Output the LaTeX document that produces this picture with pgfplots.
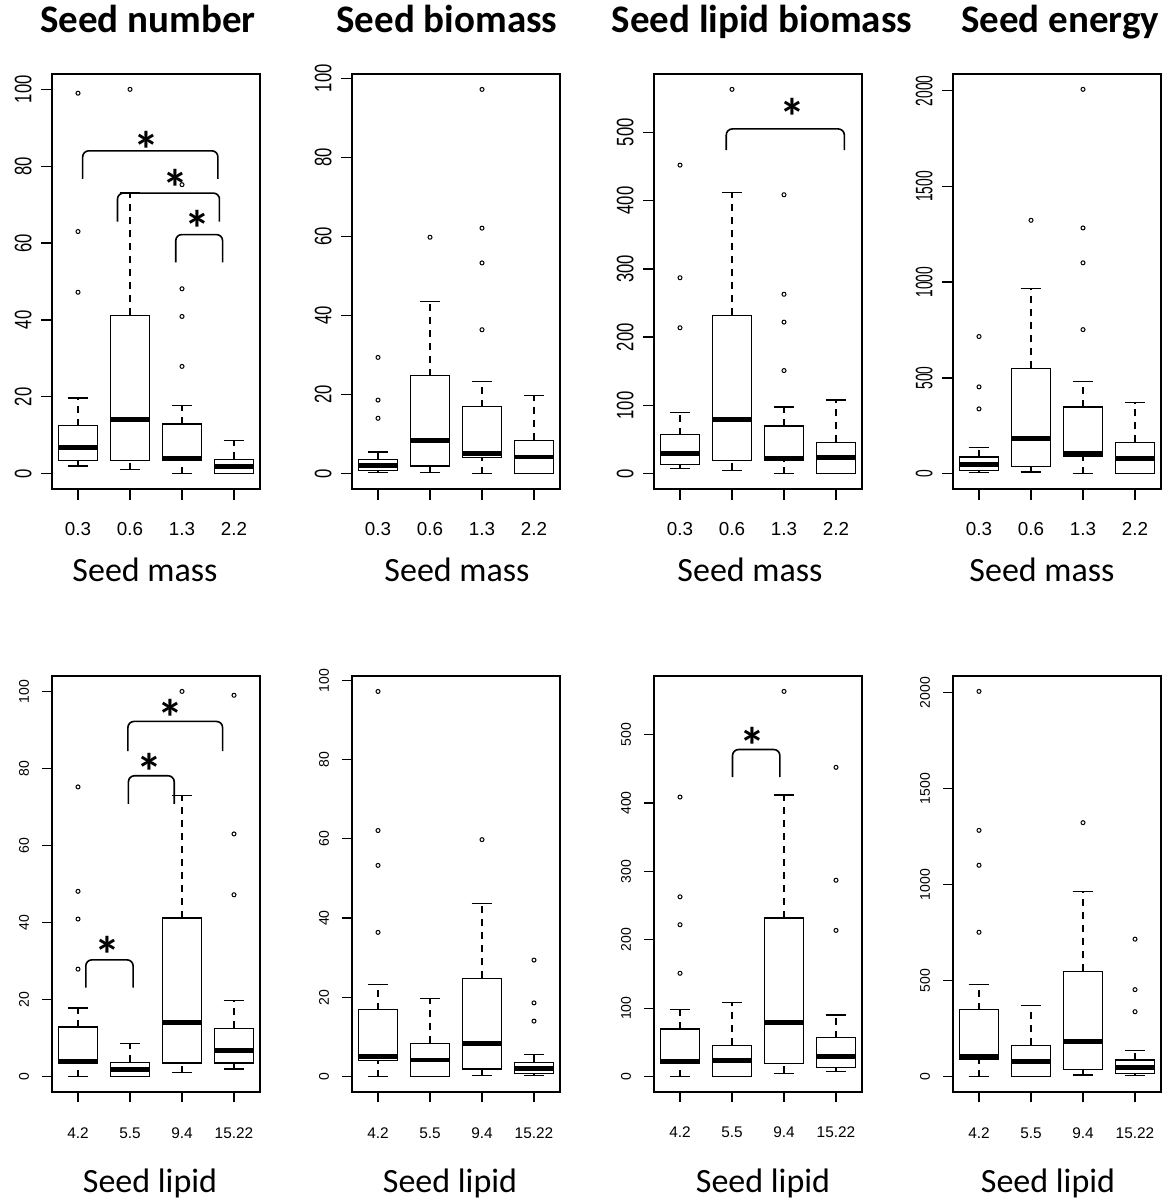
\documentclass[border=0pt]{standalone}
\usepackage{pgfplots}
\pgfplotsset{compat=1.18}
\usepackage{graphicx}
\usepackage{fontspec}
\setmainfont{Carlito}
\newfontfamily\arial{Liberation Sans}

% one R-style box: position, lower whisker, Q1, median, Q3, upper whisker
\newcommand{\bx}[6]{%
  \pgfmathsetmacro\xl{#1-0.38}\pgfmathsetmacro\xr{#1+0.38}%
  \pgfmathsetmacro\sl{#1-0.2}\pgfmathsetmacro\sr{#1+0.2}%
  \edef\doit{%
    \noexpand\addplot[whisk] coordinates {(#1,#2) (#1,#3)};
    \noexpand\addplot[whisk] coordinates {(#1,#5) (#1,#6)};
    \noexpand\addplot[boxl] coordinates {(\sl,#2) (\sr,#2)};
    \noexpand\addplot[boxl] coordinates {(\sl,#6) (\sr,#6)};
    \noexpand\addplot[boxl] coordinates {(\xl,#3) (\xr,#3) (\xr,#5) (\xl,#5)} --cycle;
    \noexpand\addplot[med] coordinates {(\xl,#4) (\xr,#4)};
  }\doit}

\pgfplotsset{
  boxl/.style={black, line width=0.65pt},
  whisk/.style={black, line width=0.65pt, dash pattern=on 3.5pt off 3pt},
  med/.style={black, line width=2.4pt},
  outl/.style={black, only marks, mark=o, mark size=1pt, mark options={line width=0.5pt}},
  panel/.style={
    scale only axis, width=104pt, anchor=south west,
    disabledatascaling,
    xmin=0.5, xmax=4.5, xtick={1,2,3,4},
    axis line style={line width=0.65pt},
    tick style={line width=0.65pt, black},
    tick align=outside, xtick pos=bottom, ytick pos=left,
    /pgf/number format/1000 sep={},
    /pgf/number format/assume math mode=true,
    scaled y ticks=false, clip=false,
    xticklabel style={anchor=base, inner sep=0pt},
    yticklabel style={rotate=90, anchor=south, inner sep=0pt},
  },
  row1/.style={panel, height=207.5pt, major tick length=5.5pt,
    xticklabels={0.3,0.6,1.3,2.2},
    xticklabel style={font=\arial\fontsize{9.4}{10}\selectfont},
    yticklabel style={font=\arial\fontsize{11.9}{12}\selectfont},
    yticklabel={\scalebox{0.7}[1]{\pgfmathprintnumber{\tick}}},
    xticklabel shift=18pt, yticklabel shift=4.5pt},
  row2/.style={panel, height=208pt, major tick length=5pt,
    xticklabels={4.2,5.5,9.4,15.22},
    xticklabel style={font=\arial\fontsize{7.7}{8}\selectfont},
    yticklabel style={font=\arial\fontsize{7}{8}\selectfont},
    xticklabel shift=18pt, yticklabel shift=6.3pt},
  num/.style={ymin=-4, ymax=104, ytick={0,20,...,100}},
  bio/.style={ymin=-3.89, ymax=101.1, ytick={0,20,...,100}},
  lip/.style={ymin=-22.5, ymax=585.5, ytick={0,100,...,500}},
  ene/.style={ymin=-80.3, ymax=2087.3, ytick={0,500,...,2000}},
}

\tikzset{
  sig/.style={line width=0.8pt, rounded corners=3pt},
  star/.style={font=\bfseries\fontsize{26}{26}\selectfont, inner sep=0pt, yshift=-4.6pt},
}

\begin{document}
\begin{tikzpicture}
\path[use as bounding box] (0,0) rectangle (584.5pt,602pt);

% ---------------- row 1: seed mass ----------------
\begin{axis}[row1, num, at={(26pt,357.5pt)}]
\bx{1}{2}{3.5}{6.8}{12.5}{19.7}
\bx{2}{1}{3.5}{14}{41.2}{73}
\bx{3}{0}{3.5}{3.9}{12.9}{17.8}
\bx{4}{0}{0}{1.9}{3.7}{8.6}
\addplot[outl] coordinates {(1,47.2) (1,63) (1,99) (2,100) (3,27.9) (3,40.9) (3,48.1) (3,75.2)};
\draw[sig] (axis cs:1.09,76.7) -- (axis cs:1.09,84) -- (axis cs:3.69,84) -- (axis cs:3.69,76.7);
\draw[sig] (axis cs:1.76,65.6) -- (axis cs:1.76,73) -- (axis cs:3.72,73) -- (axis cs:3.72,65.6);
\draw[sig] (axis cs:2.88,55) -- (axis cs:2.88,62.2) -- (axis cs:3.78,62.2) -- (axis cs:3.78,55);
\node[star] at (axis cs:2.32,86.7) {*};
\node[star] at (axis cs:2.87,76.7) {*};
\node[star] at (axis cs:3.29,66) {*};
\end{axis}

\begin{axis}[row1, bio, at={(176pt,357.5pt)}]
\bx{1}{0.34}{0.85}{2.1}{3.6}{5.5}
\bx{2}{0.3}{1.9}{8.4}{24.8}{43.6}
\bx{3}{0}{4.1}{5}{16.9}{23.3}
\bx{4}{0}{0}{4.2}{8.4}{19.7}
\addplot[outl] coordinates {(1,14) (1,18.6) (1,29.4) (2,59.8) (3,36.4) (3,53.3) (3,62.1) (3,97.2)};
\end{axis}

\begin{axis}[row1, lip, at={(327pt,357.5pt)}]
\bx{1}{7.9}{13.3}{29.5}{57}{90}
\bx{2}{4.9}{19.2}{79}{232}{411.6}
\bx{3}{0}{19.2}{21.6}{69.7}{97.7}
\bx{4}{0}{0}{24}{45.7}{108}
\addplot[outl] coordinates {(1,213.7) (1,287) (1,452) (2,563) (3,151) (3,222) (3,262.8) (3,408.6)};
\draw[sig] (axis cs:1.89,474) -- (axis cs:1.89,505) -- (axis cs:4.16,505) -- (axis cs:4.16,474);
\node[star] at (axis cs:3.17,536) {*};
\end{axis}

\begin{axis}[row1, ene, at={(476.5pt,357.5pt)},
  yticklabel={\scalebox{0.58}[1]{\pgfmathprintnumber{\tick}}}]
\bx{1}{7}{17.5}{49}{86}{136.5}
\bx{2}{8.7}{38.5}{184}{549}{966}
\bx{3}{0}{89}{105}{348}{481}
\bx{4}{0}{0}{77}{163}{371}
\addplot[outl] coordinates {(1,338) (1,453) (1,716) (2,1323) (3,752) (3,1101) (3,1283) (3,2007)};
\end{axis}

% ---------------- row 2: seed lipid ----------------
\begin{axis}[row2, num, at={(26pt,56pt)}]
\bx{1}{0}{3.5}{3.9}{12.9}{17.8}
\bx{2}{0}{0}{1.9}{3.7}{8.6}
\bx{3}{1}{3.5}{14}{41.2}{73}
\bx{4}{2}{3.5}{6.8}{12.5}{19.7}
\addplot[outl] coordinates {(1,27.9) (1,40.9) (1,48.1) (1,75.2) (3,100) (4,47.2) (4,63) (4,99)};
\draw[sig] (axis cs:1.15,23.1) -- (axis cs:1.15,30.3) -- (axis cs:2.06,30.3) -- (axis cs:2.06,23.1);
\draw[sig] (axis cs:1.97,70.8) -- (axis cs:1.97,78.1) -- (axis cs:2.85,78.1) -- (axis cs:2.85,70.8);
\draw[sig] (axis cs:1.96,84.5) -- (axis cs:1.96,92.2) -- (axis cs:3.78,92.2) -- (axis cs:3.78,84.5);
\node[star] at (axis cs:1.56,34) {*};
\node[star] at (axis cs:2.37,81.4) {*};
\node[star] at (axis cs:2.78,95.5) {*};
\end{axis}

\begin{axis}[row2, bio, at={(176pt,56pt)}]
\bx{1}{0}{4.1}{5}{16.9}{23.3}
\bx{2}{0}{0}{4.2}{8.4}{19.7}
\bx{3}{0.3}{1.9}{8.4}{24.8}{43.6}
\bx{4}{0.34}{0.85}{2.1}{3.6}{5.5}
\addplot[outl] coordinates {(1,36.4) (1,53.3) (1,62.1) (1,97.2) (3,59.8) (4,14) (4,18.6) (4,29.4)};
\end{axis}

\begin{axis}[row2, lip, at={(327pt,56pt)}]
\bx{1}{0}{19.2}{21.6}{69.7}{97.7}
\bx{2}{0}{0}{24}{45.7}{108}
\bx{3}{4.9}{19.2}{79}{232}{411.6}
\bx{4}{7.9}{13.3}{29.5}{57}{90}
\addplot[outl] coordinates {(1,151) (1,222) (1,262.8) (1,408.6) (3,563) (4,213.7) (4,287) (4,452)};
\draw[sig] (axis cs:2.01,437.7) -- (axis cs:2.01,478) -- (axis cs:2.92,478) -- (axis cs:2.92,437.7);
\node[star] at (axis cs:2.40,496.6) {*};
\end{axis}

\begin{axis}[row2, ene, at={(476.5pt,56pt)}]
\bx{1}{0}{89}{105}{348}{481}
\bx{2}{0}{0}{77}{163}{371}
\bx{3}{8.7}{38.5}{184}{549}{966}
\bx{4}{7}{17.5}{49}{86}{136.5}
\addplot[outl] coordinates {(1,752) (1,1101) (1,1283) (1,2007) (3,1323) (4,338) (4,453) (4,716)};
\end{axis}

% ---------------- titles and axis names ----------------
\begin{scope}[every node/.style={anchor=base, inner sep=0pt}]
\node[font=\bfseries\fontsize{19.5}{20}\selectfont] at (74pt,585.5pt) {Seed number};
\node[font=\bfseries\fontsize{19.5}{20}\selectfont] at (223.5pt,585.5pt) {Seed biomass};
\node[font=\bfseries\fontsize{19.5}{20}\selectfont] at (381pt,585.5pt) {Seed lipid biomass};
\node[font=\bfseries\fontsize{19.5}{20}\selectfont] at (530pt,585.5pt) {Seed energy};
\node[font=\fontsize{17}{18}\selectfont] at (72.5pt,311pt) {Seed mass};
\node[font=\fontsize{17}{18}\selectfont] at (228.5pt,311pt) {Seed mass};
\node[font=\fontsize{17}{18}\selectfont] at (375pt,311pt) {Seed mass};
\node[font=\fontsize{17}{18}\selectfont] at (521pt,311pt) {Seed mass};
\node[font=\fontsize{17}{18}\selectfont] at (75pt,5.5pt) {Seed lipid};
\node[font=\fontsize{17}{18}\selectfont] at (225pt,5.5pt) {Seed lipid};
\node[font=\fontsize{17}{18}\selectfont] at (381.5pt,5.5pt) {Seed lipid};
\node[font=\fontsize{17}{18}\selectfont] at (524pt,5.5pt) {Seed lipid};
\end{scope}
\end{tikzpicture}
\end{document}
